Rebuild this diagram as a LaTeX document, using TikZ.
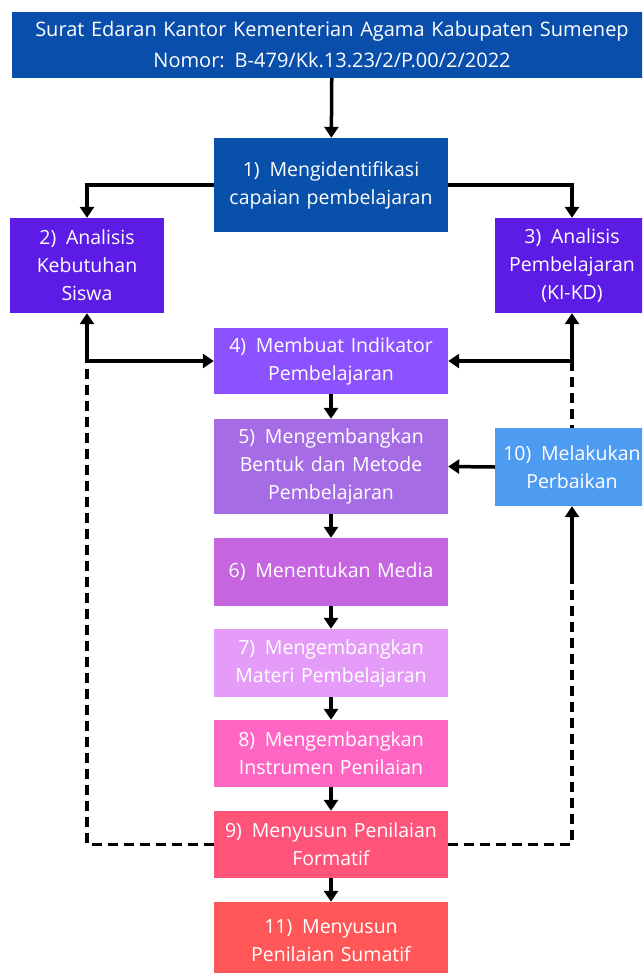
\documentclass[tikz,border=0pt]{standalone}
\usepackage{fontspec}
\setmainfont{Open Sans}
\usetikzlibrary{arrows.meta}
\definecolor{col0}{RGB}{10,78,172}
\definecolor{col1}{RGB}{8,80,170}
\definecolor{col2}{RGB}{92,28,230}
\definecolor{col4}{RGB}{140,82,255}
\definecolor{col5}{RGB}{166,108,230}
\definecolor{col6}{RGB}{197,102,224}
\definecolor{col7}{RGB}{228,156,248}
\definecolor{col8}{RGB}{255,102,196}
\definecolor{col9}{RGB}{255,84,122}
\definecolor{col10}{RGB}{78,156,242}
\definecolor{col11}{RGB}{255,87,87}
\tikzset{every picture/.style={x=1pt,y=-1pt}}
\tikzset{box/.style={rectangle,fill,inner sep=0pt,align=center,text=white,font=\fontsize{19.5}{28}\selectfont}}
\tikzset{wide/.style={minimum width=234,text width=226}}
\tikzset{narrow/.style={minimum width=154,text width=150}}
\tikzset{edge/.style={line width=3.5,-{Triangle[width=14pt,length=11pt]}}}
\tikzset{back/.style={line width=3.5,dash pattern=on 10pt off 6pt}}

\begin{document}
\begin{tikzpicture}
\useasboundingbox (0,0) rectangle (642,973);
\clip (0,0) rectangle (642,973);
\node [col0,box,minimum width=640,minimum height=66,text width=630,font=\fontsize{20}{31}\selectfont] (s) at (332,45) {Surat Edaran Kantor Kementerian Agama Kabupaten Sumenep\\Nomor: B-479/Kk.13.23/2/P.00/2/2022};

\node [col1,box,wide,minimum height=94] (m1) at (331,185) {1)\enspace Mengidentifikasi\\capaian pembelajaran};
\node [col2,box,narrow,minimum height=95] (m2) at (87,265.5) {2)\enspace Analisis\\Kebutuhan\\Siswa};
\node [col2,box,narrow,minimum height=95] (m3) at (572,265.5) {3)\enspace Analisis\\Pembelajaran\\(KI-KD)};
\node [col4,box,wide,minimum height=66] (m4) at (331,361) {4)\enspace Membuat Indikator\\Pembelajaran};
\node [col5,box,wide,minimum height=95] (m5) at (331,466.5) {5)\enspace Mengembangkan\\Bentuk dan Metode\\Pembelajaran};
\node [col10,box,narrow,minimum height=78] (m10) at (572,467) {10)\enspace Melakukan\\Perbaikan};
\node [col6,box,wide,minimum height=68] (m6) at (331,572) {6)\enspace Menentukan Media};
\node [col7,box,wide,minimum height=68] (m7) at (331,663) {7)\enspace Mengembangkan\\Materi Pembelajaran};
\node [col8,box,wide,minimum height=67] (m8) at (331,753.5) {8)\enspace Mengembangkan\\Instrumen Penilaian};
\node [col9,box,wide,minimum height=67] (m9) at (331,844.5) {9)\enspace Menyusun Penilaian\\Formatif};
\node [col11,box,wide,minimum height=78] (m11) at (331,941) {11)\enspace Menyusun\\Penilaian Sumatif};

\coordinate (jl) at (87,361);
\coordinate (jr) at (572,361);
\coordinate (rs) at (572,575);

\draw [edge] (s) -- (m1);
\draw [edge] (m1.west) -| (m2.north);
\draw [edge] (m1.east) -| (m3.north);

\draw [edge] (jl) -- (m2.south);
\draw [edge] (jl) -- (m4.west);
\draw [edge] (jr) -- (m3.south);
\draw [edge] (jr) -- (m4.east);
\draw [back] (jr) -- (m10.north);

\draw [edge] (m4) -- (m5);
\draw [edge] (m5) -- (m6);
\draw [edge] (m6) -- (m7);
\draw [edge] (m7) -- (m8);
\draw [edge] (m8) -- (m9);
\draw [edge] (m9) -- (m11);

\draw [edge] (m10.west) -- (m5.east);
\draw [edge] (rs) -- (m10.south);
\draw [back] (m9.east) -| (rs);
\draw [back] (m9.west) -| (jl);
\end{tikzpicture}
\end{document}
